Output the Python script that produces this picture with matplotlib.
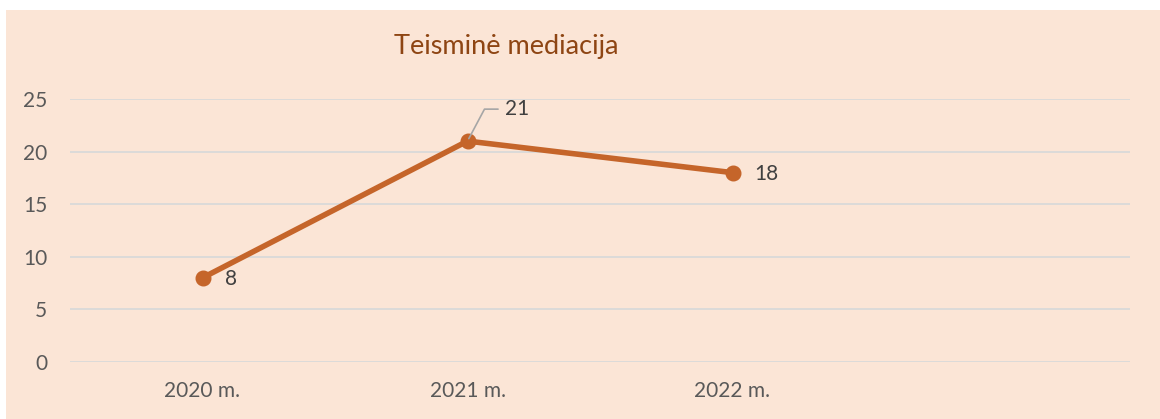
import matplotlib.pyplot as plt
from matplotlib.patches import Rectangle

plt.rcParams["font.family"] = ["Lato", "DejaVu Sans"]

# data
categories = ["2020 m.", "2021 m.", "2022 m.", ""]
values = [8, 21, 18]
title = "Teisminė mediacija"

BG = "#FBE5D6"
LINE = "#C5652A"
TITLE_C = "#8E4513"
TEXT_C = "#595959"
GRID_C = "#D9D9D9"

W, H = 1160, 419
fig = plt.figure(figsize=(W / 100, H / 100), dpi=100)
fig.patch.set_facecolor("white")
fig.patches.append(Rectangle((6 / W, 0), 1 - 6 / W, (H - 10) / H,
                             transform=fig.transFigure, facecolor=BG,
                             edgecolor="none", zorder=-10))

ax = fig.add_axes([70 / W, (H - 362) / H, 1060 / W, 263 / H])
ax.set_facecolor("none")

x = list(range(len(values)))
ax.plot(x, values, color=LINE, lw=4.0, marker="o", ms=10.5, zorder=3,
        solid_capstyle="round")

ax.set_xlim(-0.5, len(categories) - 0.5)
ax.set_ylim(0, 25)
ax.set_yticks(range(0, 26, 5))
ax.set_xticks(range(len(categories)))
ax.set_xticklabels(categories)
ax.grid(axis="y", color=GRID_C, lw=1.3)
ax.set_axisbelow(True)
for s in ax.spines.values():
    s.set_visible(False)
ax.tick_params(length=0, labelsize=15, colors=TEXT_C)
ax.tick_params(axis="y", pad=16.5)
ax.tick_params(axis="x", pad=14)
for lbl in ax.get_yticklabels():
    lbl.set_horizontalalignment("right")

# data labels
ax.annotate(str(values[0]), (x[0], values[0]), xytext=(16, -1),
            textcoords="offset points", fontsize=15, color="#404040",
            va="center", ha="left")
ax.annotate(str(values[2]), (x[2], values[2]), xytext=(16, -1),
            textcoords="offset points", fontsize=15, color="#404040",
            va="center", ha="left")
# leader line for the middle point
ax.annotate(str(values[1]), (x[1], values[1]), xytext=(27, 23),
            textcoords="offset points", fontsize=15, color="#404040",
            va="center", ha="left")
ax.annotate("", (x[1], values[1]), xytext=(22, 23), textcoords="offset points",
            arrowprops=dict(arrowstyle="-", color="#A6A6A6", lw=1.2,
                            connectionstyle="angle,angleA=0,angleB=62,rad=0",
                            shrinkA=0, shrinkB=2))

fig.text(506 / W, 1 - 46 / H, title, fontsize=19.5, color=TITLE_C,
         ha="center", va="center")

fig.savefig("out.png", dpi=100)
